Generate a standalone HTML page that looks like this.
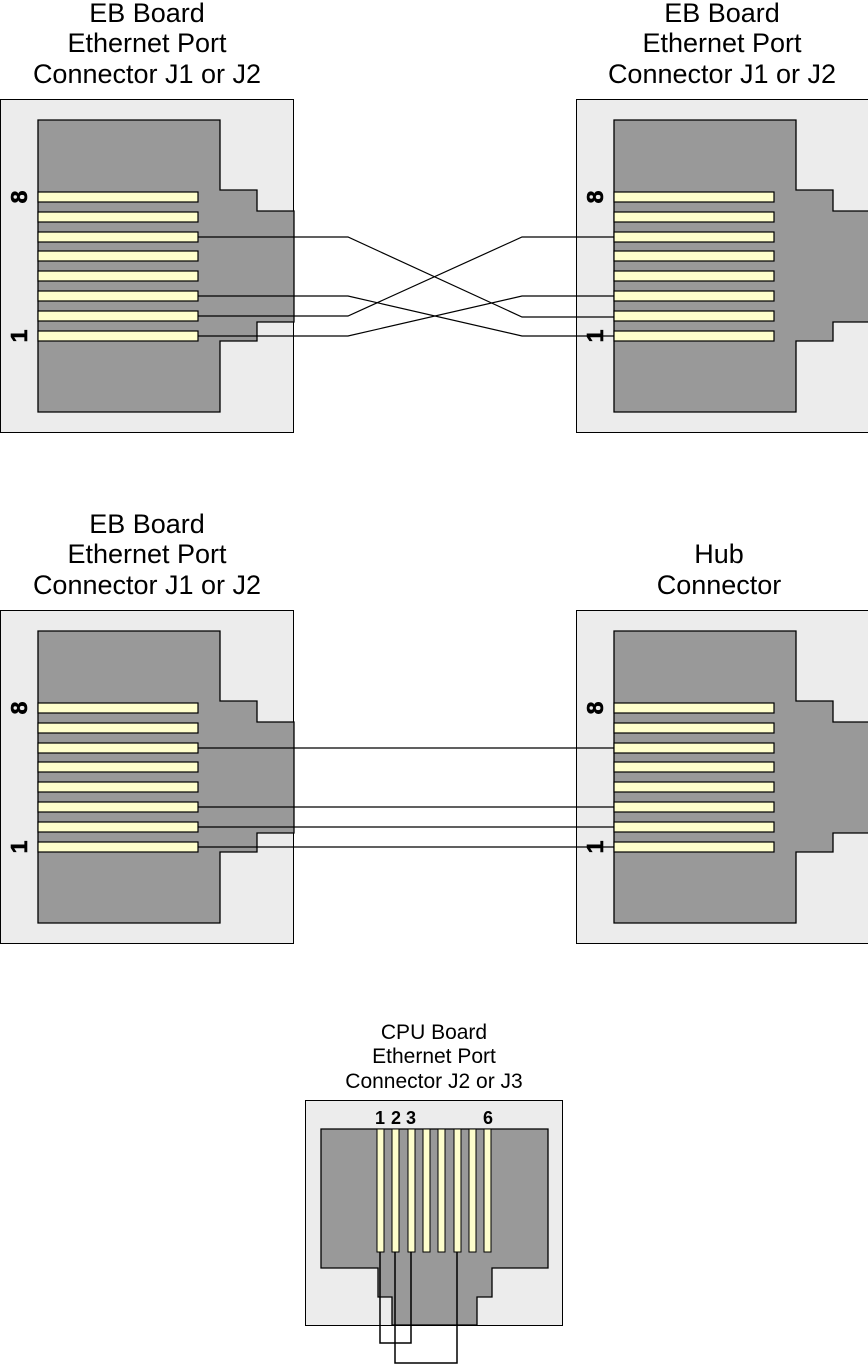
<!DOCTYPE html>
<html><head><style>html,body{margin:0;padding:0;background:#fff}svg{display:block}</style></head><body>
<svg width="868" height="1366" viewBox="0 0 868 1366" xmlns="http://www.w3.org/2000/svg" font-family="Liberation Sans, Arial, sans-serif">
<defs>
<g id="conn">
  <rect x="0.5" y="0.5" width="293" height="333" fill="#ececec" stroke="#000" stroke-width="1"/>
  <polygon points="38,21 220,21 220,91 257,91 257,112 294,112 294,223 257,223 257,242 220,242 220,313 38,313" fill="#999" stroke="#000" stroke-width="1.3"/>
  <g fill="#ffffcc" stroke="#000" stroke-width="1.2">
    <rect x="38" y="93" width="160" height="10"/>
    <rect x="38" y="113" width="160" height="10"/>
    <rect x="38" y="133" width="160" height="10"/>
    <rect x="38" y="152" width="160" height="10"/>
    <rect x="38" y="172" width="160" height="10"/>
    <rect x="38" y="192" width="160" height="10"/>
    <rect x="38" y="212" width="160" height="10"/>
    <rect x="38" y="232" width="160" height="10"/>
  </g>
  <text transform="translate(27,98) rotate(-90)" font-size="23" font-weight="bold" text-anchor="middle" stroke="#000" stroke-width="0.6">8</text>
  <text transform="translate(27,237) rotate(-90)" font-size="23" font-weight="bold" text-anchor="middle" stroke="#000" stroke-width="0.6">1</text>
</g>
</defs>
<g font-size="27" text-anchor="middle">
  <text x="147" y="22">EB Board</text><text x="147" y="52">Ethernet Port</text><text x="147" y="83">Connector J1 or J2</text>
  <text x="722" y="22">EB Board</text><text x="722" y="52">Ethernet Port</text><text x="722" y="83">Connector J1 or J2</text>
  <text x="147" y="533">EB Board</text><text x="147" y="563">Ethernet Port</text><text x="147" y="594">Connector J1 or J2</text>
  <text x="719" y="563">Hub</text><text x="719" y="594">Connector</text>
</g>
<use href="#conn" x="0" y="99"/>
<use href="#conn" x="576" y="99"/>
<use href="#conn" x="0" y="610"/>
<use href="#conn" x="576" y="610"/>
<g fill="none" stroke="#000" stroke-width="1.2">
  <polyline points="198,237 348,237 522,317 614,317"/>
  <polyline points="198,296 348,296 522,336 614,336"/>
  <polyline points="198,316 348,316 522,237 614,237"/>
  <polyline points="198,336 348,336 522,296 614,296"/>
  <line x1="198" y1="748" x2="614" y2="748"/>
  <line x1="198" y1="807" x2="614" y2="807"/>
  <line x1="198" y1="827" x2="614" y2="827"/>
  <line x1="198" y1="847" x2="614" y2="847"/>
</g>
<g font-size="21" text-anchor="middle">
  <text x="434" y="1039">CPU Board</text><text x="434" y="1063">Ethernet Port</text><text x="434" y="1088">Connector J2 or J3</text>
</g>
<rect x="305.5" y="1100.5" width="257" height="225" fill="#ececec" stroke="#000"/>
<polygon points="321,1129 548,1129 548,1268 492,1268 492,1297 477,1297 477,1325 392,1325 392,1297 378,1297 378,1268 321,1268" fill="#999" stroke="#000" stroke-width="1.3"/>
<line x1="305" y1="1325.5" x2="563" y2="1325.5" stroke="#000"/>
<g fill="#ffffcc" stroke="#000" stroke-width="1">
  <rect x="377" y="1129" width="7" height="123"/>
  <rect x="392" y="1129" width="7" height="123"/>
  <rect x="408" y="1129" width="7" height="123"/>
  <rect x="423" y="1129" width="7" height="123"/>
  <rect x="438" y="1129" width="7" height="123"/>
  <rect x="454" y="1129" width="7" height="123"/>
  <rect x="469" y="1129" width="7" height="123"/>
  <rect x="484" y="1129" width="7" height="123"/>
</g>
<g font-size="18" font-weight="bold" text-anchor="middle">
  <text x="380" y="1124">1</text><text x="396" y="1124">2</text><text x="411" y="1124">3</text><text x="488" y="1124">6</text>
</g>
<g fill="none" stroke="#000" stroke-width="1.5">
  <polyline points="380,1252 380,1343 411,1343 411,1252"/>
  <polyline points="395,1252 395,1363 457,1363 457,1252"/>
</g>
</svg>
</body></html>
